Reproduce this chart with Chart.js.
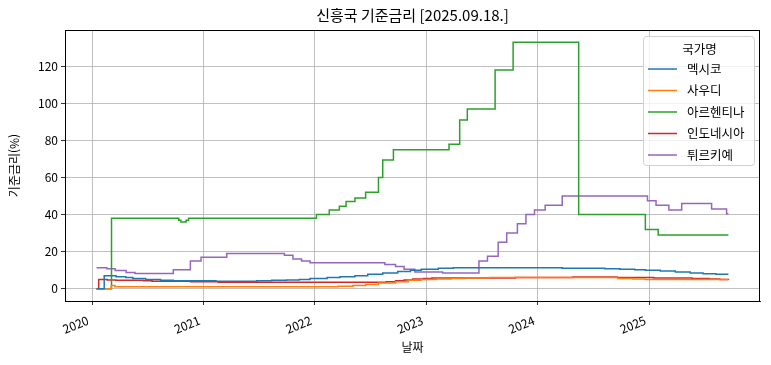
<!DOCTYPE html>
<html lang="ko">
<head>
<meta charset="utf-8">
<title>신흥국 기준금리</title>
<script src="https://cdn.jsdelivr.net/npm/chart.js@4.4.1/dist/chart.umd.min.js"></script>
<style>
    html, body { margin: 0; padding: 0; background: #fff; }
    #wrap { width: 771px; height: 365px; position: relative; }
</style>
</head>
<body>
<div id="wrap"><canvas id="rateChart"></canvas></div>
<script>
// 신흥국 기준금리 - step lines by country

const chartTitle = '신흥국 기준금리 [2025.09.18.]';
const seriesNames = ['멕시코', '사우디', '아르헨티나', '인도네시아', '튀르키예'];
const seriesColors = ['#1f77b4', '#ff7f0e', '#2ca02c', '#d62728', '#9467bd'];

const mexicoDates = ['2020-01-16', '2020-02-10', '2020-03-20', '2020-04-21', '2020-05-14', '2020-06-25', '2020-08-13', '2020-09-24',
    '2021-02-11', '2021-06-24', '2021-08-12', '2021-09-30', '2021-11-11', '2021-12-16', '2022-02-10', '2022-03-24', '2022-05-12',
    '2022-06-23', '2022-08-11', '2022-09-29', '2022-11-10', '2022-12-15', '2023-02-09', '2023-03-30', '2024-03-21', '2024-08-08',
    '2024-09-26', '2024-11-14', '2024-12-19', '2025-02-06', '2025-03-27', '2025-05-15', '2025-06-26', '2025-08-07', '2025-09-17'];
const mexicoValues = [0, 7.0, 6.5, 6.0, 5.5, 5.0, 4.5, 4.25,
    4.0, 4.25, 4.5, 4.75, 5.0, 5.5, 6.0, 6.5, 7.0,
    7.75, 8.5, 9.25, 10.0, 10.5, 11.0, 11.25, 11.0, 10.75,
    10.5, 10.25, 10.0, 9.5, 9.0, 8.5, 8.0, 7.75, 7.75];

const saudiDates = ['2020-01-16', '2020-03-04', '2020-03-16', '2022-03-17', '2022-05-05', '2022-06-16', '2022-07-28', '2022-09-22',
    '2022-11-03', '2022-12-15', '2023-02-02', '2023-03-23', '2023-05-04', '2023-07-27', '2024-09-19', '2024-11-08', '2024-12-19', '2025-09-17'];
const saudiValues = [0, 1.75, 1.0, 1.25, 1.75, 2.25, 3.0, 3.75,
    4.5, 5.0, 5.25, 5.5, 5.75, 6.0, 5.5, 5.25, 5.0, 5.0];

const argentinaDates = ['2020-01-16', '2020-03-05', '2020-10-12', '2020-10-19', '2020-11-05', '2020-11-13', '2022-01-06', '2022-02-17',
    '2022-03-22', '2022-04-13', '2022-05-12', '2022-06-16', '2022-07-28', '2022-08-11', '2022-09-15', '2023-03-16', '2023-04-20',
    '2023-05-15', '2023-08-14', '2023-10-12', '2024-05-14', '2024-12-19', '2025-01-30', '2025-09-17'];
const argentinaValues = [0, 38, 37, 36, 37, 38, 40, 42.5,
    44.5, 47, 49, 52, 60, 69.5, 75, 78, 91,
    97, 118, 133, 40, 32, 29, 29];

const indonesiaDates = ['2020-01-16', '2020-01-23', '2020-02-20', '2020-03-19', '2020-06-18', '2020-07-16', '2020-11-19', '2021-02-18',
    '2022-08-23', '2022-09-22', '2022-10-20', '2022-11-17', '2022-12-22', '2023-01-19', '2023-10-19', '2024-04-24', '2024-09-18',
    '2025-01-15', '2025-05-21', '2025-07-16', '2025-08-20', '2025-09-17'];
const indonesiaValues = [0, 5.0, 4.75, 4.5, 4.25, 4.0, 3.75, 3.5,
    3.75, 4.25, 4.75, 5.25, 5.5, 5.75, 6.0, 6.25, 6.0,
    5.75, 5.5, 5.25, 5.0, 4.75];

const turkeyDates = ['2020-01-16', '2020-02-19', '2020-03-17', '2020-04-22', '2020-05-21', '2020-09-24', '2020-11-19', '2020-12-24',
    '2021-03-18', '2021-09-23', '2021-10-21', '2021-11-18', '2021-12-16', '2022-08-18', '2022-09-22', '2022-10-20', '2022-11-24',
    '2023-02-23', '2023-06-22', '2023-07-20', '2023-08-24', '2023-09-21', '2023-10-26', '2023-11-23', '2023-12-21', '2024-01-25',
    '2024-03-21', '2024-12-26', '2025-01-23', '2025-03-06', '2025-04-17', '2025-07-24', '2025-09-11', '2025-09-17'];
const turkeyValues = [11.25, 10.75, 9.75, 8.75, 8.25, 10.25, 15, 17,
    19, 18, 16, 15, 14, 13, 12, 10.5, 9,
    8.5, 15, 17.5, 25, 30, 35, 40, 42.5, 45,
    50, 47.5, 45, 42.5, 46, 43, 40.5, 40.5];

const xTickYears = [2020, 2021, 2022, 2023, 2024, 2025];
const yTickValues = [0, 20, 40, 60, 80, 100, 120];

const FONT = "'Noto Sans CJK KR', 'Noto Sans', sans-serif";

// date string -> fractional year, so the x axis can stay linear
function toYear(dateStr) {
    const [y, m, d] = dateStr.split('-').map(Number);
    const start = Date.UTC(y, 0, 1);
    const end = Date.UTC(y + 1, 0, 1);
    return y + (Date.UTC(y, m - 1, d) - start) / (end - start);
}

function toPoints(dates, values) {
    return dates.map((d, i) => ({ x: toYear(d), y: values[i] }));
}

const allSeries = [
    toPoints(mexicoDates, mexicoValues),
    toPoints(saudiDates, saudiValues),
    toPoints(argentinaDates, argentinaValues),
    toPoints(indonesiaDates, indonesiaValues),
    toPoints(turkeyDates, turkeyValues)
];

// x / y limits with a 5% margin like the original
const xFirst = toYear('2020-01-16');
const xLast = toYear('2025-09-17');
const xPad = (xLast - xFirst) * 0.05;
const yPad = 133 * 0.05;

// frame on all four sides of the plot area + title centred over it
const framePlugin = {
    id: 'frame',
    afterDatasetsDraw(chart) {
        const { ctx, chartArea: a } = chart;
        ctx.save();
        ctx.strokeStyle = '#000';
        ctx.lineWidth = 1;
        ctx.strokeRect(Math.round(a.left) + 0.5, Math.round(a.top) + 0.5,
            Math.round(a.right - a.left) - 1, Math.round(a.bottom - a.top));

        ctx.fillStyle = '#000';
        ctx.font = '15px ' + FONT;
        ctx.textAlign = 'center';
        ctx.textBaseline = 'middle';
        ctx.fillText(chartTitle, (a.left + a.right) / 2, 15);
        ctx.restore();
    }
};

// legend box inside the plot, upper right
const boxLegendPlugin = {
    id: 'boxLegend',
    afterDraw(chart) {
        const { ctx, chartArea: a } = chart;
        const w = 111, h = 129;
        const x = a.right - 6 - w;
        const y = a.top + 6;
        ctx.save();
        ctx.fillStyle = 'rgba(255,255,255,0.8)';
        ctx.strokeStyle = '#d0d0d0';
        ctx.lineWidth = 1;
        ctx.beginPath();
        ctx.roundRect(x + 0.5, y + 0.5, w, h, 3);
        ctx.fill();
        ctx.stroke();

        ctx.fillStyle = '#000';
        ctx.font = '12.5px ' + FONT;
        ctx.textAlign = 'center';
        ctx.textBaseline = 'middle';
        ctx.fillText('국가명', x + w / 2 + 1, y + 13);

        ctx.textAlign = 'left';
        chart.data.datasets.forEach((ds, i) => {
            const ly = y + 33 + i * 21.5;
            ctx.strokeStyle = ds.borderColor;
            ctx.lineWidth = 1.5;
            ctx.beginPath();
            ctx.moveTo(x + 5, ly);
            ctx.lineTo(x + 34, ly);
            ctx.stroke();
            ctx.fillStyle = '#000';
            ctx.fillText(ds.label, x + 44, ly);
        });
        ctx.restore();
    }
};

document.addEventListener('DOMContentLoaded', () => {
    const ctx = document.getElementById('rateChart').getContext('2d');

    new Chart(ctx, {
        type: 'line',
        data: {
            datasets: allSeries.map((pts, i) => ({
                label: seriesNames[i],
                data: pts,
                borderColor: seriesColors[i],
                backgroundColor: seriesColors[i],
                borderWidth: 1.5,
                pointRadius: 0,
                stepped: true,
                fill: false
            }))
        },
        options: {
            responsive: true,
            maintainAspectRatio: false,
            animation: false,
            layout: { padding: { left: 0, right: 11, top: 30, bottom: 0 } },
            plugins: {
                legend: { display: false },
                tooltip: { enabled: false }
            },
            scales: {
                x: {
                    type: 'linear',
                    min: xFirst - xPad,
                    max: xLast + xPad,
                    afterBuildTicks: (scale) => {
                        scale.ticks = xTickYears.map(v => ({ value: v }));
                    },
                    afterFit: (scale) => { scale.height = 64; },
                    ticks: {
                        color: '#000',
                        font: { family: FONT, size: 12 },
                        minRotation: 22,
                        maxRotation: 22,
                        padding: 8,
                        labelOffset: -4,
                        callback: (v) => String(v)
                    },
                    grid: { color: '#b0b0b0', lineWidth: 0.8, tickColor: '#000', tickLength: 4 },
                    border: { color: '#000', width: 1 },
                    title: {
                        display: true,
                        text: '날짜',
                        color: '#000',
                        font: { family: FONT, size: 12 },
                        padding: { top: 0, bottom: 10 }
                    }
                },
                y: {
                    min: -yPad,
                    max: 133 + yPad,
                    afterBuildTicks: (scale) => {
                        scale.ticks = yTickValues.map(v => ({ value: v }));
                    },
                    afterFit: (scale) => { scale.width = 65; },
                    ticks: {
                        color: '#000',
                        font: { family: FONT, size: 12 },
                        padding: 3
                    },
                    grid: { color: '#b0b0b0', lineWidth: 0.8, tickColor: '#000', tickLength: 4 },
                    border: { color: '#000', width: 1 },
                    title: {
                        display: true,
                        text: '기준금리(%)',
                        color: '#000',
                        font: { family: FONT, size: 12 },
                        padding: { top: 7, bottom: 0 }
                    }
                }
            }
        },
        plugins: [framePlugin, boxLegendPlugin]
    });
});
</script>
</body>
</html>
